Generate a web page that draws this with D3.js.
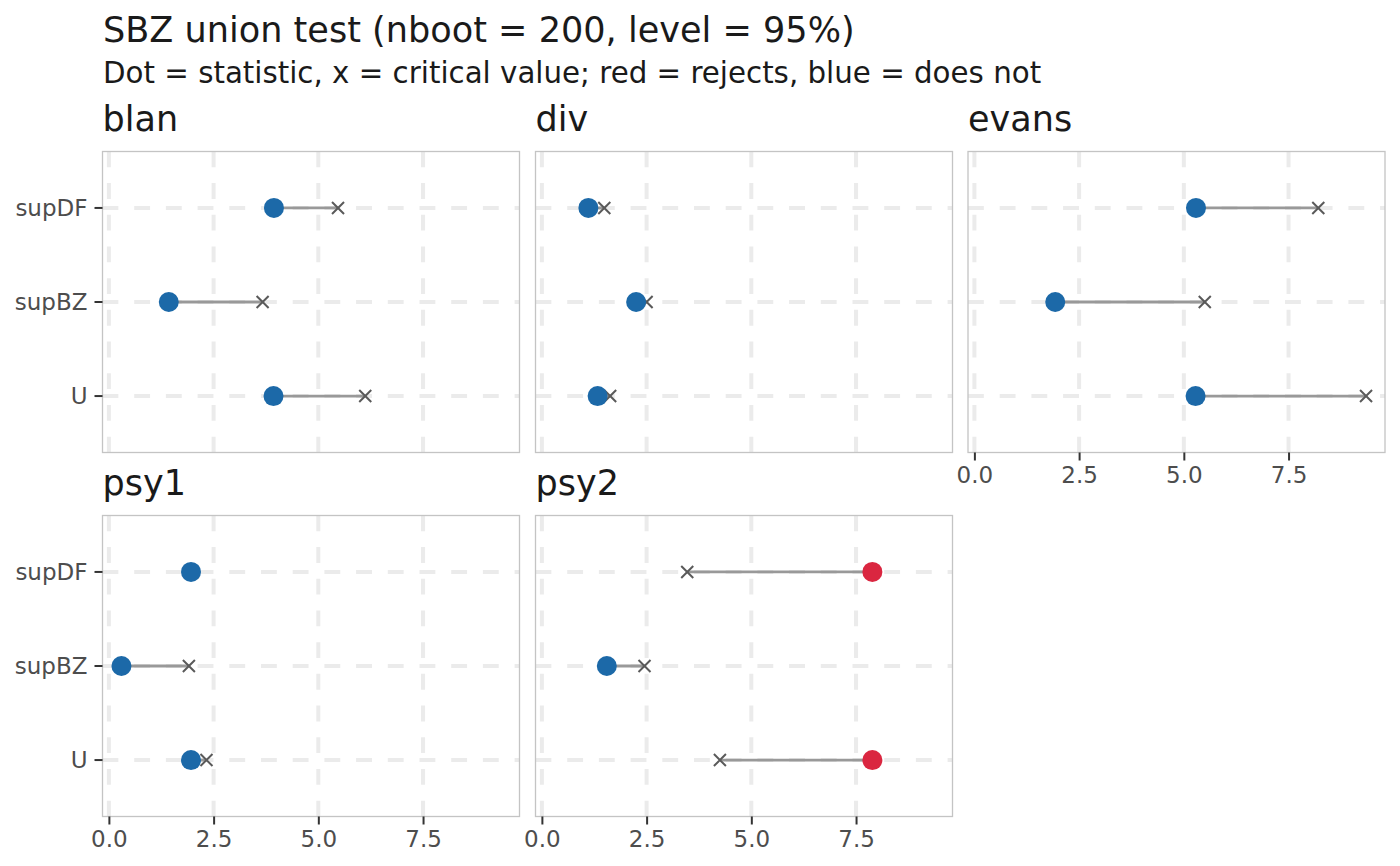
<!DOCTYPE html>
<html>
<head>
<meta charset="utf-8">
<script src="https://cdn.jsdelivr.net/npm/d3@7"></script>
<style>
  body { margin: 0; background: #fff; }
  svg { font-family: "DejaVu Sans", sans-serif; }
</style>
</head>
<body>
<svg id="chart" width="1400" height="866"></svg>
<script>
// facets and test rows (bottom to top)
const panels = ["blan", "div", "evans", "psy1", "psy2"];
const tests = ["U", "supBZ", "supDF"];
const xTicks = [0, 2.5, 5, 7.5];

// statistic and critical value per facet, one pair of arrays per test
const statU = [3.93, 1.33, 5.28, 1.96, 7.89];
const critU = [6.12, 1.63, 9.35, 2.33, 4.25];
const statSupBZ = [1.43, 2.25, 1.93, 0.30, 1.55];
const critSupBZ = [3.67, 2.50, 5.50, 1.91, 2.45];
const statSupDF = [3.94, 1.11, 5.29, 1.96, 7.89];
const critSupDF = [5.47, 1.49, 8.21, 2.00, 3.47];

const blue = "#1c69a8";
const red = "#da2640";

// long rows
const rows = [];
panels.forEach((p, i) => {
    rows.push({ panel: p, test: "U", stat: statU[i], crit: critU[i] });
    rows.push({ panel: p, test: "supBZ", stat: statSupBZ[i], crit: critSupBZ[i] });
    rows.push({ panel: p, test: "supDF", stat: statSupDF[i], crit: critSupDF[i] });
});

const svg = d3.select("#chart");

// layout
const panelW = 417;
const panelH = 301;
const colX = [102.5, 535.5, 968];
const rowY = [151.5, 515.5];
const ncol = 3;

// shared x scale with ggplot-like 5% expansion
const allVals = rows.flatMap(d => [d.stat, d.crit]);
const lo = d3.min(allVals), hi = d3.max(allVals);
const pad = (hi - lo) * 0.05;
const x = d3.scaleLinear().domain([lo - pad, hi + pad]).range([0, panelW]);

// discrete y with 0.6 expansion
const y = d3.scaleLinear().domain([0.4, 3.6]).range([panelH, 0]);
const yPos = t => y(tests.indexOf(t) + 1);

// title / subtitle
svg.append("text")
    .attr("x", 103).attr("y", 42)
    .attr("font-size", 35.1).attr("fill", "#1a1a1a")
    .text("SBZ union test (nboot = 200, level = 95%)");
svg.append("text")
    .attr("x", 103).attr("y", 83)
    .attr("font-size", 29.3).attr("fill", "#1a1a1a")
    .text("Dot = statistic, x = critical value; red = rejects, blue = does not");

panels.forEach((p, i) => {
    const col = i % ncol, row = Math.floor(i / ncol);
    const px = colX[col], py = rowY[row];
    const g = svg.append("g").attr("transform", `translate(${px},${py})`);
    const data = rows.filter(d => d.panel === p);

    // strip label
    svg.append("text")
        .attr("x", px).attr("y", py - 20.5)
        .attr("font-size", 35).attr("fill", "#1a1a1a")
        .text(p);

    // grid (dashed, drawn bottom->top and left->right)
    g.selectAll(".vgrid").data(xTicks).enter().append("line")
        .attr("x1", d => x(d)).attr("x2", d => x(d))
        .attr("y1", panelH).attr("y2", 0)
        .attr("stroke", "#ebebeb").attr("stroke-width", 4)
        .attr("stroke-dasharray", "15.85,15.85");
    g.selectAll(".hgrid").data(tests).enter().append("line")
        .attr("x1", 0).attr("x2", panelW)
        .attr("y1", d => yPos(d)).attr("y2", d => yPos(d))
        .attr("stroke", "#ebebeb").attr("stroke-width", 4)
        .attr("stroke-dasharray", "15.85,15.85");

    // segments statistic -> critical value
    g.selectAll(".seg").data(data).enter().append("line")
        .attr("x1", d => x(d.stat)).attr("x2", d => x(d.crit))
        .attr("y1", d => yPos(d.test)).attr("y2", d => yPos(d.test))
        .attr("stroke", "#999999").attr("stroke-width", 2.8);

    // critical value crosses
    g.selectAll(".crit").data(data).enter().append("path")
        .attr("d", d3.symbol(d3.symbolTimes).size(96))
        .attr("transform", d => `translate(${x(d.crit)},${yPos(d.test)})`)
        .attr("fill", "none").attr("stroke", "#5a5a5a").attr("stroke-width", 2);

    // statistic dots
    g.selectAll(".stat").data(data).enter().append("circle")
        .attr("cx", d => x(d.stat)).attr("cy", d => yPos(d.test))
        .attr("r", 10)
        .attr("fill", d => d.stat > d.crit ? red : blue);

    // border
    g.append("rect")
        .attr("x", 0).attr("y", 0).attr("width", panelW).attr("height", panelH)
        .attr("fill", "none").attr("stroke", "#c4c4c4").attr("stroke-width", 1.3);

    // y axis on first column
    if (col === 0) {
        tests.forEach(t => {
            g.append("line")
                .attr("x1", -8).attr("x2", 0)
                .attr("y1", yPos(t)).attr("y2", yPos(t))
                .attr("stroke", "#333").attr("stroke-width", 2);
            g.append("text")
                .attr("x", -15).attr("y", yPos(t))
                .attr("dy", "0.35em")
                .attr("text-anchor", "end")
                .attr("font-size", 23).attr("fill", "#4d4d4d")
                .text(t);
        });
    }

    // x axis on lowest panel of each column
    const below = i + ncol < panels.length;
    if (!below) {
        const xa = g.append("g")
            .attr("transform", `translate(0,${panelH})`)
            .call(d3.axisBottom(x).tickValues(xTicks).tickFormat(d3.format(".1f"))
                .tickSize(8).tickPadding(6));
        xa.select(".domain").remove();
        xa.selectAll(".tick line").attr("stroke", "#333").attr("stroke-width", 2);
        xa.selectAll(".tick text")
            .attr("font-size", 23).attr("fill", "#4d4d4d")
            .attr("font-family", "DejaVu Sans, sans-serif");
    }
});
</script>
</body>
</html>
